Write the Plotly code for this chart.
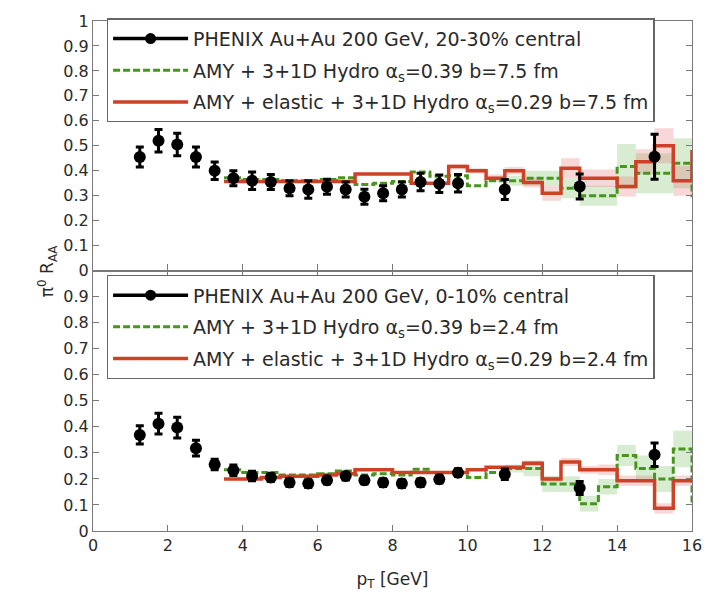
import plotly.graph_objects as go

# ---------------- data ----------------
pt_data = [1.25, 1.75, 2.25, 2.75, 3.25, 3.75, 4.25, 4.75, 5.25, 5.75, 6.25,
           6.75, 7.25, 7.75, 8.25, 8.75, 9.25, 9.75, 11.0, 13.0, 15.0]

raa_2030 = [0.455, 0.52, 0.505, 0.455, 0.40, 0.37, 0.36, 0.355, 0.33, 0.325, 0.336,
            0.325, 0.296, 0.31, 0.325, 0.355, 0.348, 0.35, 0.325, 0.337, 0.456]
err_2030 = [0.04, 0.045, 0.045, 0.04, 0.035, 0.03, 0.035, 0.03, 0.03, 0.035, 0.03,
            0.03, 0.03, 0.03, 0.03, 0.035, 0.035, 0.035, 0.04, 0.05, 0.09]

raa_010 = [0.369, 0.412, 0.397, 0.318, 0.255, 0.233, 0.211, 0.205, 0.186, 0.182, 0.195,
           0.211, 0.195, 0.186, 0.182, 0.186, 0.199, 0.224, 0.218, 0.165, 0.293]
err_010 = [0.035, 0.04, 0.04, 0.03, 0.02, 0.02, 0.018, 0.015, 0.015, 0.015, 0.015,
           0.015, 0.015, 0.015, 0.015, 0.015, 0.015, 0.015, 0.02, 0.025, 0.045]

# histogram bin edges (GeV)
bin_edges = [3.5, 4.0, 4.5, 5.0, 5.5, 6.0, 6.5, 7.0, 7.5, 8.0, 8.5, 9.0, 9.5, 10.0,
             10.5, 11.0, 11.5, 12.0, 12.5, 13.0, 13.5, 14.0, 14.5, 15.0, 15.5, 16.0, 16.5]

# 20-30% central, b = 7.5 fm
green_2030 = [0.372, 0.365, 0.365, 0.36, 0.36, 0.365, 0.372, 0.345, 0.35, 0.357, 0.395,
              0.378, 0.38, 0.34, 0.36, 0.36, 0.37, 0.37, 0.33, 0.30, 0.30, 0.417, 0.39,
              0.39, 0.43, 0.30]
green_2030_err = [0, 0, 0, 0, 0, 0, 0, 0, 0, 0, 0, 0, 0, 0, 0, 0.02, 0.03, 0.03, 0.04,
                  0.04, 0.04, 0.09, 0.08, 0.08, 0.1, 0.1]
red_2030 = [0.357, 0.357, 0.357, 0.357, 0.357, 0.357, 0.357, 0.387, 0.387, 0.387, 0.35,
            0.35, 0.417, 0.40, 0.37, 0.40, 0.353, 0.31, 0.41, 0.37, 0.37, 0.337, 0.436,
            0.50, 0.36, 0.476]
red_2030_err = [0, 0, 0, 0, 0, 0, 0, 0, 0, 0, 0, 0, 0.01, 0.01, 0.015, 0.015, 0.02, 0.03,
                0.04, 0.035, 0.035, 0.04, 0.05, 0.07, 0.06, 0.06]

# 0-10% central, b = 2.4 fm
green_010 = [0.235, 0.225, 0.225, 0.215, 0.215, 0.22, 0.23, 0.215, 0.22, 0.215, 0.237,
             0.225, 0.225, 0.205, 0.225, 0.24, 0.24, 0.18, 0.18, 0.105, 0.17, 0.29, 0.24,
             0.20, 0.315, 0.105]
green_010_err = [0, 0, 0, 0, 0, 0, 0, 0, 0, 0, 0, 0, 0, 0, 0, 0.015, 0.03, 0.03, 0.03,
                 0.03, 0.03, 0.04, 0.05, 0.05, 0.07, 0.07]
red_010 = [0.20, 0.20, 0.205, 0.21, 0.21, 0.215, 0.22, 0.235, 0.235, 0.225, 0.225, 0.225,
           0.225, 0.235, 0.245, 0.245, 0.26, 0.20, 0.265, 0.235, 0.235, 0.193, 0.193,
           0.087, 0.193, 0.193]
red_010_err = [0, 0, 0, 0, 0, 0, 0, 0, 0, 0, 0, 0, 0, 0, 0, 0, 0.01, 0.01, 0.015, 0.015,
               0.02, 0.02, 0.02, 0.02, 0.02, 0.02]

leg_top = ["PHENIX Au+Au 200 GeV, 20-30% central",
           "AMY + 3+1D Hydro α<sub>s</sub>=0.39 b=7.5 fm",
           "AMY + elastic + 3+1D Hydro α<sub>s</sub>=0.29 b=7.5 fm"]
leg_bot = ["PHENIX Au+Au 200 GeV, 0-10% central",
           "AMY + 3+1D Hydro α<sub>s</sub>=0.39 b=2.4 fm",
           "AMY + elastic + 3+1D Hydro α<sub>s</sub>=0.29 b=2.4 fm"]

# ---------------- style ----------------
RED = "rgb(205,65,38)"
GREEN = "rgb(70,150,30)"
RED_BAND = "rgba(225,110,110,0.28)"
GREEN_BAND = "rgba(110,185,90,0.28)"
FONT = "DejaVu Sans, Verdana, sans-serif"
FRAME = "#7a7a7a"
TXT = "#2a2a2a"

fig = go.Figure()


def steps(vals):
    return list(vals) + [vals[-1]]


def add_panel(xa, ya, legend, green, green_err, red, red_err, raa, err, labels):
    # uncertainty bands
    for vals, errs, col in ((green, green_err, GREEN_BAND), (red, red_err, RED_BAND)):
        lo = [v - e for v, e in zip(vals, errs)]
        hi = [v + e for v, e in zip(vals, errs)]
        fig.add_trace(go.Scatter(x=bin_edges, y=steps(lo), mode="lines", line_shape="hv",
                                 line=dict(width=0), hoverinfo="skip", showlegend=False,
                                 xaxis=xa, yaxis=ya))
        fig.add_trace(go.Scatter(x=bin_edges, y=steps(hi), mode="lines", line_shape="hv",
                                 line=dict(width=0), fill="tonexty", fillcolor=col,
                                 hoverinfo="skip", showlegend=False, xaxis=xa, yaxis=ya))
    # green dashed curve
    fig.add_trace(go.Scatter(x=bin_edges, y=steps(green), mode="lines", line_shape="hv",
                             line=dict(color=GREEN, width=3, dash="7px,3px"),
                             name=labels[1], legend=legend, legendgroup=legend + "g",
                             legendrank=2, xaxis=xa, yaxis=ya))
    # red solid curve
    fig.add_trace(go.Scatter(x=bin_edges, y=steps(red), mode="lines", line_shape="hv",
                             line=dict(color=RED, width=3.5),
                             name=labels[2], legend=legend, legendgroup=legend + "r",
                             legendrank=3, xaxis=xa, yaxis=ya))
    # PHENIX data
    fig.add_trace(go.Scatter(x=pt_data, y=raa, mode="markers",
                             marker=dict(color="black", size=12),
                             error_y=dict(type="data", array=err, color="black",
                                          thickness=3, width=4),
                             showlegend=False, xaxis=xa, yaxis=ya))
    # legend entry for the data (line + marker like the original key)
    fig.add_trace(go.Scatter(x=[None], y=[None], mode="lines+markers",
                             line=dict(color="black", width=3.5),
                             marker=dict(color="black", size=11),
                             name=labels[0], legend=legend, legendgroup=legend + "d",
                             legendrank=1, xaxis=xa, yaxis=ya))


add_panel("x2", "y2", "legend", green_2030, green_2030_err, red_2030, red_2030_err,
          raa_2030, err_2030, leg_top)
add_panel("x", "y", "legend2", green_010, green_010_err, red_010, red_010_err,
          raa_010, err_010, leg_bot)

W, H = 714, 613
ml, mr, mt, mb = 93, 16, 16, 82
split = (531 - 268) / (H - mt - mb)

axis_common = dict(showline=True, linecolor=FRAME, linewidth=1.2, mirror="ticks",
                   ticks="inside", ticklen=6, tickcolor=FRAME, tickwidth=1.2,
                   showgrid=False, zeroline=False,
                   tickfont=dict(family=FONT, size=16, color=TXT))

yt_top = [0, 0.1, 0.2, 0.3, 0.4, 0.5, 0.6, 0.7, 0.8, 0.9, 1]
yt_bot = [0, 0.1, 0.2, 0.3, 0.4, 0.5, 0.6, 0.7, 0.8, 0.9]

legend_common = dict(bgcolor="white", bordercolor="#666", borderwidth=1.3,
                     font=dict(family=FONT, size=19, color=TXT),
                     tracegroupgap=4, itemwidth=75, xanchor="left", yanchor="top",
                     traceorder="grouped")

fig.update_layout(
    width=W, height=H,
    margin=dict(l=ml, r=mr, t=mt, b=mb),
    paper_bgcolor="white", plot_bgcolor="white",
    showlegend=True,
    xaxis=dict(domain=[0, 1], anchor="y", range=[0, 16], tickvals=[0, 2, 4, 6, 8, 10, 12, 14, 16],
               title=dict(text="p<sub>T</sub> [GeV]", font=dict(family=FONT, size=17, color=TXT),
                          standoff=18),
               **axis_common),
    yaxis=dict(domain=[0, split], anchor="x", range=[0, 1], tickvals=yt_bot, **axis_common),
    xaxis2=dict(domain=[0, 1], anchor="y2", range=[0, 16], matches="x",
                tickvals=[0, 2, 4, 6, 8, 10, 12, 14, 16], showticklabels=False, **axis_common),
    yaxis2=dict(domain=[split, 1], anchor="x2", range=[0, 1], tickvals=yt_top, **axis_common),
    legend=dict(x=0.023, y=1.005, **legend_common),
    legend2=dict(x=0.023, y=0.502, **legend_common),
    annotations=[dict(text="π<sup>0</sup> R<sub>AA</sub>", xref="paper", yref="paper",
                      x=-0.1, y=split, textangle=-90, showarrow=False,
                      font=dict(family=FONT, size=17, color=TXT))],
)

fig.write_html("out.html")
